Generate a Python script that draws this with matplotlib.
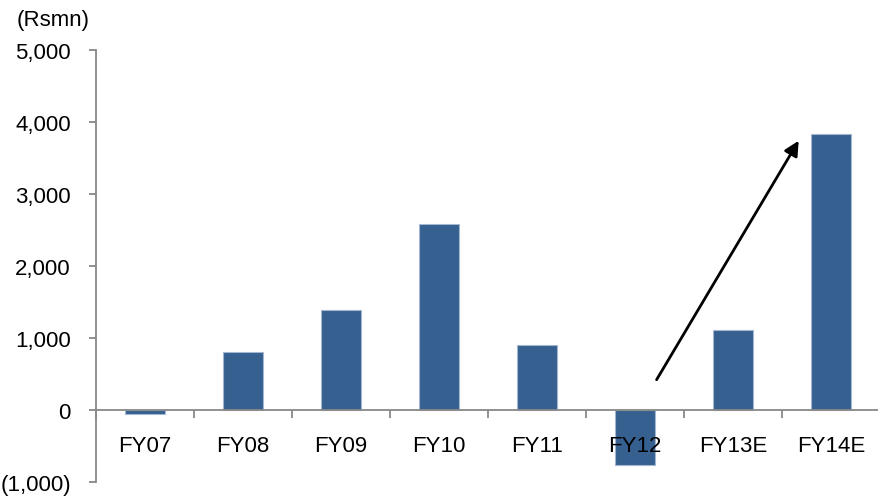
import matplotlib
matplotlib.use("Agg")
import matplotlib.pyplot as plt
import numpy as np

plt.rcParams['font.family'] = ['Liberation Sans', 'DejaVu Sans']

categories = ["FY07", "FY08", "FY09", "FY10", "FY11", "FY12", "FY13E", "FY14E"]
values = [-60, 811, 1395, 2580, 900, -768, 1111, 3830]
y_ticks = [-1000, 0, 1000, 2000, 3000, 4000, 5000]
y_labels = ["(1,000)", "0", "1,000", "2,000", "3,000", "4,000", "5,000"]

# trend arrow endpoints (category position, value)
arrow_start = (5.22, 420)
arrow_end = (6.67, 3740)

fig = plt.figure(figsize=(8.79, 5.02), dpi=100)
ax = fig.add_axes([0.1092, 0.0380, 0.8920, 0.8604])

x = np.arange(len(categories))
ax.bar(x, values, width=0.4, color="#36608F", edgecolor="#A3B7D1", linewidth=0.8, zorder=2)

ax.set_xlim(-0.5, len(categories) - 0.5)
ax.set_ylim(-1000, 5000)

for s in ["top", "right"]:
    ax.spines[s].set_visible(False)
ax.spines["bottom"].set_position(("data", 0))
for s in ["left", "bottom"]:
    ax.spines[s].set_color("#888888")
    ax.spines[s].set_linewidth(1.3)
ax.spines["bottom"].set_zorder(3)

ax.set_yticks(y_ticks)
ax.set_yticklabels(y_labels)
ax.tick_params(axis="y", direction="out", length=5, width=1.3, color="#888888",
               labelsize=16, pad=13)

ax.set_xticks(np.arange(len(categories) + 1) - 0.5)
ax.set_xticklabels([""] * (len(categories) + 1))
ax.tick_params(axis="x", which="major", direction="out", length=6, width=1.3, color="#888888")
ax.set_xticks(x, minor=True)
ax.set_xticklabels(categories, minor=True)
ax.tick_params(axis="x", which="minor", length=0, labelsize=16, pad=18)
ax.xaxis.set_zorder(4)

ax.annotate("", xy=arrow_end, xytext=arrow_start,
            arrowprops=dict(arrowstyle="-|>", color="black", lw=2, mutation_scale=22,
                            shrinkA=0, shrinkB=0), zorder=5)

fig.text(0.0193, 0.96, "(Rsmn)", fontsize=16, ha="left", va="center")

fig.savefig("out.png", dpi=100)
